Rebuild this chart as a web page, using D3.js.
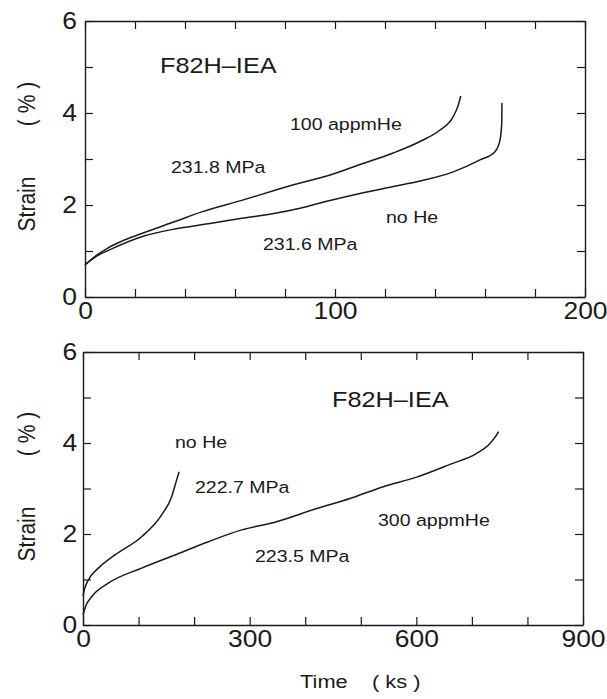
<!DOCTYPE html>
<html><head><meta charset="utf-8">
<script src="https://cdn.jsdelivr.net/npm/d3@7"></script>
<style>
html,body{margin:0;padding:0;background:#fff;}
svg{display:block;font-family:"Liberation Sans",Arial,Helvetica,sans-serif;}
</style></head>
<body>
<svg id="chart" width="607" height="699"></svg>
<script>
// ---------- data ----------
// Top panel (time in ks, strain in %)
const topHeTime   = [0, 5, 9.3, 15, 22.7, 36, 46.7, 62.7, 76, 86, 96.7, 110, 123.3, 134, 142, 147.3, 149.3, 150.3];
const topHeStrain = [0.70, 0.92, 1.07, 1.22, 1.38, 1.64, 1.85, 2.10, 2.32, 2.48, 2.63, 2.88, 3.13, 3.38, 3.63, 3.92, 4.17, 4.37];
const topNoHeTime   = [0, 5, 10, 22.7, 36, 49.3, 62.7, 76, 86, 96.7, 110, 123.3, 134, 147.3, 158, 164, 166, 166.7, 166.8];
const topNoHeStrain = [0.70, 0.90, 1.03, 1.31, 1.48, 1.59, 1.71, 1.82, 1.93, 2.08, 2.25, 2.40, 2.52, 2.72, 2.98, 3.16, 3.41, 3.78, 4.22];
// Bottom panel
const botNoHeTime   = [0, 3, 9.6, 27.6, 57.6, 105.6, 141.6, 159.6, 168.6, 173];
const botNoHeStrain = [0.64, 0.80, 0.99, 1.25, 1.54, 1.94, 2.42, 2.82, 3.19, 3.37];
const botHeTime   = [0, 5, 15.6, 45.6, 105.6, 165.6, 225.6, 285.6, 345.6, 420.6, 480.6, 540.6, 600.6, 660.6, 708.6, 732.6, 744.6, 748];
const botHeStrain = [0.22, 0.42, 0.62, 0.92, 1.25, 1.54, 1.83, 2.09, 2.26, 2.56, 2.78, 3.04, 3.25, 3.53, 3.77, 3.99, 4.18, 4.25];

const topXTicks = [0,20,40,60,80,100,120,140,160,180,200];
const topXLabels = [0,100,200];
const botXTicks = [0,100,200,300,400,500,600,700,800,900];
const botXLabels = [0,300,600,900];
const yTicks = [0,1,2,3,4,5,6];
const yLabels = [0,2,4,6];

const materialLabel = "F82H\u2013IEA";
const yTitleA = "Strain", yTitleB = "( % )";
const xTitleA = "Time", xTitleB = "( ks )";

// ---------- drawing ----------
const svg = d3.select("#chart");
const SX = 1.15; // horizontal stretch of scanned text
const INK = "#1a1a1a";

function txt(x, y, s, size, anchor, rot) {
  return svg.append("text")
    .attr("transform", `translate(${x},${y}) scale(${SX},1)` + (rot ? ` rotate(${rot})` : ""))
    .attr("font-size", size).attr("fill", INK)
    .attr("text-anchor", anchor || "start")
    .text(s);
}

function panel(cfg) {
  const x = d3.scaleLinear().domain(cfg.xDomain).range(cfg.xRange);
  const y = d3.scaleLinear().domain([0,6]).range(cfg.yRange);
  const g = svg.append("g");
  const fmtX = d => cfg.xLabels.includes(d) ? String(d) : "";
  const fmtY = d => yLabels.includes(d) ? String(d) : "";
  const styleAxis = sel => {
    sel.selectAll("path.domain").attr("stroke", INK).attr("stroke-width", 1.4).attr("fill", "none");
    sel.selectAll(".tick line").attr("stroke", INK).attr("stroke-width", 1.2);
    sel.selectAll("text").attr("font-size", 23).attr("fill", INK)
      .attr("font-family", '"Liberation Sans",Arial,sans-serif')
      .attr("transform", `scale(${SX},1)`);
  };
  g.append("g").attr("transform", `translate(0,${cfg.yRange[0]})`)
    .call(d3.axisBottom(x).tickValues(cfg.xTicks).tickFormat(fmtX).tickSizeInner(-8).tickSizeOuter(0).tickPadding(6))
    .call(styleAxis);
  g.append("g").attr("transform", `translate(0,${cfg.yRange[1]})`)
    .call(d3.axisTop(x).tickValues(cfg.xTicks).tickFormat("").tickSizeInner(-8).tickSizeOuter(0))
    .call(styleAxis);
  g.append("g").attr("transform", `translate(${cfg.xRange[0]},0)`)
    .call(d3.axisLeft(y).tickValues(yTicks).tickFormat(fmtY).tickSizeInner(-8).tickSizeOuter(0).tickPadding(cfg.yPad))
    .call(styleAxis);
  g.append("g").attr("transform", `translate(${cfg.xRange[1]},0)`)
    .call(d3.axisRight(y).tickValues(yTicks).tickFormat("").tickSizeInner(-8).tickSizeOuter(0))
    .call(styleAxis);

  const line = d3.line().x(d => x(d[0])).y(d => y(d[1])).curve(d3.curveMonotoneX);
  cfg.series.forEach(s => {
    const pts = s.t.map((t, i) => [t, s.v[i]]);
    g.append("path").datum(pts).attr("d", line)
      .attr("fill", "none").attr("stroke", INK).attr("stroke-width", 1.5);
  });
}

panel({
  xDomain: [0,200], xRange: [85,585], yRange: [297,21],
  xTicks: topXTicks, xLabels: topXLabels, yPad: 7,
  series: [{t: topHeTime, v: topHeStrain}, {t: topNoHeTime, v: topNoHeStrain}]
});
panel({
  xDomain: [0,900], xRange: [83,583], yRange: [625,352],
  xTicks: botXTicks, xLabels: botXLabels, yPad: 5,
  series: [{t: botNoHeTime, v: botNoHeStrain}, {t: botHeTime, v: botHeStrain}]
});

// annotations, top panel
txt(160, 73, materialLabel, 22);
txt(290, 130, "100 appmHe", 17);
txt(171, 173, "231.8 MPa", 17);
txt(386, 223, "no He", 17);
txt(263, 250, "231.6 MPa", 17);
// annotations, bottom panel
txt(332, 407, materialLabel, 22);
txt(175, 448, "no He", 17);
txt(195, 493, "222.7 MPa", 17);
txt(378, 526, "300 appmHe", 17);
txt(255, 562, "223.5 MPa", 17);

// axis titles
[[204,104],[534,434]].forEach(([ya, yb]) => {
  txt(35, ya, yTitleA, 21, "middle", -90);
  txt(35, yb, yTitleB, 21, "middle", -90);
});
txt(300, 688, xTitleA, 19);
txt(372, 688, xTitleB, 19);
</script>
</body></html>
